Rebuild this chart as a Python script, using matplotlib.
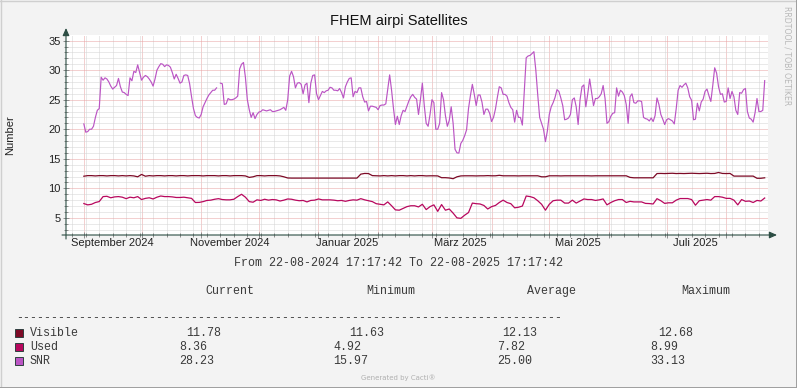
import matplotlib
matplotlib.use('Agg')
import matplotlib.pyplot as plt
import matplotlib.dates as mdates
from matplotlib.ticker import MultipleLocator, NullFormatter
from matplotlib.lines import Line2D
from datetime import datetime, timedelta

W, H = 797, 388

# time range of the graph
t_start = datetime(2024, 8, 22, 17, 17, 42)
t_end = datetime(2025, 8, 22, 17, 17, 42)
first_day = datetime(2024, 9, 1)

nan = float('nan')

# SNR, one value per day from 1 Sept 2024
snr = [
    20.9, 19.5, 19.6, 20.0, 20.0, 20.5, 22.0, 23.2, 23.5, 28.8,
    28.3, 28.7, 28.5, 28.0, 27.3, 26.8, 27.1, 27.4, 28.6, 27.2,
    26.3, 26.2, 25.9, 25.7, 28.7, 28.2, 29.8, 29.6, 30.9, 29.6,
    28.3, 28.8, 29.1, 28.9, 28.5, 28.0, 27.3, 28.5, 30.0, 30.6,
    31.1, 31.0, 30.6, 30.9, 30.8, 30.5, 29.6, 28.5, 29.3, 28.6,
    27.8, 28.0, 29.1, 29.2, 29.1, 27.7, 25.5, 23.5, 22.3, 22.0,
    21.9, 22.5, 23.8, 24.5, 25.2, 25.8, 26.2, 26.6, 26.6, 27.0,
    nan, 27.8, 27.7, 24.2, 24.3, 25.2, 25.0, 25.0, 25.1, 25.3,
    25.6, 30.2, 31.0, 31.3, 28.8, 25.0, 23.3, 22.0, 22.8, 21.8,
    22.5, 22.9, 23.0, 23.3, 23.2, 23.1, 23.2, 23.3, 23.0, 23.0,
    23.1, 23.2, 23.3, 23.5, 23.7, 23.2, 25.0, 29.0, 29.8, 28.9,
    27.0, 27.8, 27.9, 27.6, 26.0, 27.5, 27.8, 24.5, 27.8, 29.1,
    29.2, 26.0, 25.0, 25.7, 26.4, 26.2, 26.5, 26.6, 27.1, 27.0,
    26.6, 26.6, 26.5, 26.9, 26.2, 25.3, 27.2, 28.0, 28.6, 28.7,
    25.5, 26.4, 26.2, 27.0, 27.0, 25.5, 24.6, 24.7, 23.1, 23.9,
    23.9, 23.8, 23.7, 23.3, 24.0, 24.1, 24.1, 24.3, 26.8, 29.2,
    26.6, 23.5, 20.8, 22.2, 20.8, 22.3, 23.2, 23.0, 23.9, 24.8,
    25.5, 25.9, 25.4, 25.1, 22.5, 25.0, 27.8, 24.0, 21.0, 20.5,
    22.5, 25.0, 24.5, 20.0, 20.0, 21.0, 26.2, 25.0, 22.3, 20.5,
    21.5, 23.8, 21.0, 16.6, 16.0, 15.97, 17.6, 18.1, 18.9, 19.9,
    23.5, 25.7, 27.6, 25.9, 24.0, 25.8, 25.8, 24.6, 22.5, 23.4,
    23.4, 22.7, 21.3, 22.0, 23.4, 25.4, 27.2, 27.0, 25.9, 25.9,
    25.6, 24.5, 23.7, 23.3, 21.2, 23.2, 22.0, 22.0, 20.7, 26.5,
    32.1, 32.4, 32.5, 32.8, 33.13, 30.0, 25.8, 22.0, 21.0, 20.0,
    17.9, 19.7, 22.5, 23.8, 24.5, 25.4, 26.7, 26.4, 25.3, 24.0,
    21.6, 21.7, 21.9, 22.5, 25.0, 25.3, 23.8, 20.8, 25.0, 27.2,
    27.5, 23.8, 26.0, 28.5, 26.3, 24.0, 25.2, 25.2, 25.5, 26.0,
    27.4, 25.2, 21.0, 21.3, 22.2, 22.7, 22.8, 27.0, 25.6, 26.6,
    26.3, 25.7, 24.2, 21.0, 25.5, 26.0, 24.5, 24.4, 24.8, 24.8,
    24.7, 22.0, 21.8, 21.7, 21.4, 21.9, 21.3, 22.3, 25.3, 24.2,
    22.5, 21.7, 20.8, 21.6, 21.8, 21.6, 21.4, 20.9, 23.5, 26.6,
    27.4, 27.1, 27.5, 27.8, 27.0, 25.5, 24.9, 21.6, 21.7, 24.4,
    23.1, 24.6, 25.1, 26.4, 26.8, 25.7, 24.7, 27.4, 30.4, 29.5,
    27.2, 25.9, 26.0, 24.6, 24.7, 27.0, 25.2, 26.4, 25.5, 23.2,
    22.5, 26.2, 26.1, 26.7, 26.9, 23.0, 21.9, 21.7, 21.2, 22.8,
    25.2, 23.0, 23.0, 23.2, 28.23,
]

# Used and Visible, one value every second day from 1 Sept 2024
used = [
    7.42, 7.2, 7.3, 7.6, 7.76, 8.6, 8.65, 8.4, 8.55, 8.6,
    8.5, 8.25, 8.5, 8.4, 8.6, 8.1, 8.3, 8.4, 8.2, 8.5,
    8.7, 8.6, 8.6, 8.55, 8.45, 8.45, 8.5, 8.4, 8.3, 7.6,
    7.62, 7.75, 7.95, 8.0, 8.15, 8.25, 8.1, 8.05, 8.05, 8.15,
    8.6, 8.99, 8.5, 7.75, 7.65, 8.05, 7.95, 8.15, 8.0, 8.1,
    8.05, 7.85, 8.0, 8.2, 8.15, 8.0, 7.9, 7.95, 7.7, 7.95,
    8.0, 8.2, 8.05, 8.05, 8.05, 8.0, 7.9, 7.95, 7.8, 7.95,
    8.05, 8.0, 8.25, 8.05, 7.9, 7.75, 7.4, 7.3, 7.2, 7.7,
    7.05, 6.35, 6.3, 6.6, 6.9, 7.05, 7.05, 6.85, 7.3, 6.4,
    6.9, 7.2, 6.1, 7.25, 6.3, 6.5, 5.8, 5.0, 4.92, 5.45,
    5.9, 7.5, 7.4, 7.35, 7.1, 6.5, 6.9, 7.1, 7.6, 8.0,
    7.6, 7.4, 6.7, 6.8, 7.0, 8.7, 8.6, 8.4, 7.9, 7.3,
    6.3, 7.3, 7.9, 8.0, 8.0, 7.5, 7.5, 8.0, 7.5, 7.85,
    8.2, 8.1, 8.1, 7.95, 8.05, 8.2, 7.2, 7.6, 7.9, 8.1,
    8.1, 7.6, 7.8, 7.7, 7.7, 7.7, 7.45, 7.42, 7.35, 8.25,
    7.9, 7.45, 7.55, 7.55, 8.0, 8.27, 8.27, 8.27, 8.1, 7.14,
    7.9, 8.0, 8.1, 8.0, 8.6, 8.6, 8.5, 8.3, 8.3, 8.0,
    7.2, 8.1, 7.8, 7.85, 7.6, 7.95, 7.85, 8.36,
]

visible = [
    12.05, 12.15, 12.15, 12.1, 12.15, 12.15, 12.1, 12.15, 12.15, 12.1,
    12.15, 12.1, 12.15, 12.1, 11.95, 12.35, 12.05, 12.15, 12.1, 12.15,
    12.15, 12.1, 12.15, 12.15, 12.1, 12.15, 12.15, 12.1, 12.15, 12.15,
    12.15, 12.1, 12.15, 12.15, 12.15, 12.1, 12.15, 12.15, 12.1, 12.15,
    12.15, 12.15, 12.1, 11.85, 11.95, 12.15, 12.15, 12.1, 12.15, 12.15,
    12.15, 12.1, 11.95, 11.75, 11.73, 11.73, 11.73, 11.73, 11.73, 11.73,
    11.73, 11.73, 11.73, 11.73, 11.73, 11.73, 11.73, 11.73, 11.73, 11.73,
    11.73, 11.73, 12.4, 12.52, 12.5, 12.15, 12.12, 12.1, 12.15, 12.1,
    12.15, 12.1, 12.15, 12.15, 12.1, 12.15, 12.1, 12.15, 12.15, 12.1,
    12.12, 12.12, 12.1, 11.8, 11.8, 11.75, 11.63, 11.95, 12.1, 12.12,
    12.12, 12.12, 12.1, 12.12, 12.12, 12.15, 12.12, 12.12, 12.2, 12.12,
    12.12, 12.12, 12.12, 12.1, 12.12, 12.12, 12.12, 12.12, 12.12, 11.95,
    11.95, 12.12, 12.12, 12.12, 12.1, 12.12, 12.12, 12.12, 12.12, 12.12,
    12.12, 12.12, 12.1, 12.12, 12.12, 12.12, 12.12, 12.12, 12.12, 12.12,
    12.12, 12.12, 11.85, 11.78, 11.78, 11.78, 11.78, 11.78, 11.78, 12.5,
    12.52, 12.5, 12.52, 12.55, 12.5, 12.52, 12.5, 12.52, 12.55, 12.52,
    12.5, 12.52, 12.55, 12.5, 12.52, 12.68, 12.52, 12.5, 12.52, 12.07,
    12.07, 12.07, 12.07, 12.07, 12.07, 11.7, 11.7, 11.78,
]

# legend table
names = ["Visible", "Used", "SNR"]
colors = ["#7D0A26", "#B8085E", "#BB55C4"]
current = [11.78, 8.36, 28.23]
minimum = [11.63, 4.92, 15.97]
average = [12.13, 7.82, 25.00]
maximum = [12.68, 8.99, 33.13]

# x axis labels (every second month)
label_months = [(2024, 9), (2024, 11), (2025, 1), (2025, 3), (2025, 5), (2025, 7)]
label_text = ["September 2024", "November 2024", "Januar 2025", "März 2025", "Mai 2025", "Juli 2025"]

axis_col = "#2C4D43"
canvas = "#F3F3F3"
txt_col = "#3A3A3A"
mono = "Liberation Mono"
sans = "Liberation Sans"


def fx(x):
    return x / W


def fy(y):
    return 1 - y / H


fig = plt.figure(figsize=(W / 100, H / 100), dpi=100, facecolor=canvas)

# plot area: x 66..768, y 35..235 (pixels)
ax = fig.add_axes([fx(66), fy(235), 702 / W, 200 / H])
ax.set_facecolor("white")

days1 = [first_day + timedelta(days=i) for i in range(len(snr))]
days2 = [first_day + timedelta(days=2 * i) for i in range(len(used))]

ax.plot(days2, visible, color=colors[0], lw=0.9, zorder=3)
ax.plot(days2, used, color=colors[1], lw=0.9, zorder=3)
ax.plot(days1, snr, color=colors[2], lw=0.85, zorder=3)

ax.set_xlim(t_start, t_end)
ax.set_ylim(2.10, 35.95)

ax.xaxis.set_major_locator(mdates.MonthLocator())
ax.xaxis.set_minor_locator(mdates.WeekdayLocator(byweekday=mdates.MO))
ax.xaxis.set_major_formatter(NullFormatter())
ax.yaxis.set_major_locator(MultipleLocator(5))
ax.yaxis.set_minor_locator(MultipleLocator(1))
ax.yaxis.set_major_formatter(plt.FuncFormatter(lambda v, p: "%d" % v))

ax.grid(which='minor', color="#D4D4D4", lw=0.72, ls=(0, (1, 1)), zorder=1)
ax.grid(which='major', color="#E9A3A3", lw=0.72, ls=(0, (1, 1)), zorder=2)
ax.set_axisbelow(True)

for s in ax.spines.values():
    s.set_visible(False)

ax.tick_params(which='both', direction='inout', color="#8C8C8C", width=0.7)
ax.tick_params(which='major', length=4)
ax.tick_params(which='minor', length=2.5)
ax.tick_params(axis='y', labelsize=8, pad=2, labelcolor="#222222")
for lab in ax.get_yticklabels():
    lab.set_family(sans)

# month labels centred in the middle of the month
for (yy, mm), txt in zip(label_months, label_text):
    ax.text(datetime(yy, mm, 16), -0.04, txt, transform=ax.get_xaxis_transform(),
            ha='center', va='center', fontsize=8, family=sans, color="#222222")

# axes with arrows
ax.annotate('', xy=(0, 1 + 7 / 200), xytext=(0, -4 / 200), xycoords='axes fraction',
            arrowprops=dict(arrowstyle='-|>,head_length=0.45,head_width=0.2',
                            color=axis_col, lw=0.8, shrinkA=0, shrinkB=0))
ax.annotate('', xy=(1 + 9 / 702, 0), xytext=(-4 / 702, 0), xycoords='axes fraction',
            arrowprops=dict(arrowstyle='-|>,head_length=0.45,head_width=0.2',
                            color=axis_col, lw=0.8, shrinkA=0, shrinkB=0))

# title and labels
fig.text(fx(398.5), fy(21), "FHEM airpi Satellites", ha='center', va='center',
         fontsize=10.5, family=sans, color="#111111")
fig.text(fx(10), fy(135), "Number", rotation=90, ha='center', va='center',
         fontsize=8, family=sans, color="#222222")
fig.text(fx(787), fy(56), "RRDTOOL / TOBI OETIKER", rotation=270, ha='center', va='center',
         fontsize=5.6, family="DejaVu Sans", color="#B8B8B8")

fig.text(fx(398), fy(263), "From 22-08-2024 17:17:42 To 22-08-2025 17:17:42",
         ha='center', va='center', fontsize=8.4, family=mono, color=txt_col)

# legend header
for x, txt in zip([205, 366, 527, 681], ["Current", "Minimum", "Average", "Maximum"]):
    fig.text(fx(x), fy(291), txt, ha='left', va='center', fontsize=8.4, family=mono, color=txt_col)
fig.text(fx(16), fy(318), "-" * 78, ha='left', va='center', fontsize=8.4, family=mono, color=txt_col)

rows_y = [333, 347, 361]
col_x = [[186, 349, 502, 658], [179, 333, 497, 650], [179, 333, 497, 650]]
for i in range(len(names)):
    y = rows_y[i]
    fig.patches.append(matplotlib.patches.Rectangle((fx(15), fy(y + 4)), 8 / W, 8 / H,
                                                    transform=fig.transFigure, facecolor=colors[i],
                                                    edgecolor="#2F3F3F", lw=0.7))
    fig.text(fx(30), fy(y), names[i], ha='left', va='center', fontsize=8.4, family=mono, color=txt_col)
    vals = [current[i], minimum[i], average[i], maximum[i]]
    for x, v in zip(col_x[i], vals):
        fig.text(fx(x), fy(y), "%.2f" % v, ha='left', va='center', fontsize=8.4, family=mono, color=txt_col)

fig.text(fx(398), fy(378), "Generated by Cacti®", ha='center', va='center',
         fontsize=5, family="DejaVu Sans", color="#B0B0B0")

# image frame
fig.add_artist(Line2D([0, 1], [fy(0.5), fy(0.5)], transform=fig.transFigure, color="#CFCFCF", lw=1))
fig.add_artist(Line2D([fx(0.5), fx(0.5)], [0, 1], transform=fig.transFigure, color="#CFCFCF", lw=1))
fig.add_artist(Line2D([0, 1], [fy(387.5), fy(387.5)], transform=fig.transFigure, color="#9E9E9E", lw=1.4))
fig.add_artist(Line2D([fx(796.5), fx(796.5)], [0, 1], transform=fig.transFigure, color="#9E9E9E", lw=1.4))

fig.savefig("out.png", dpi=100, facecolor=canvas)
